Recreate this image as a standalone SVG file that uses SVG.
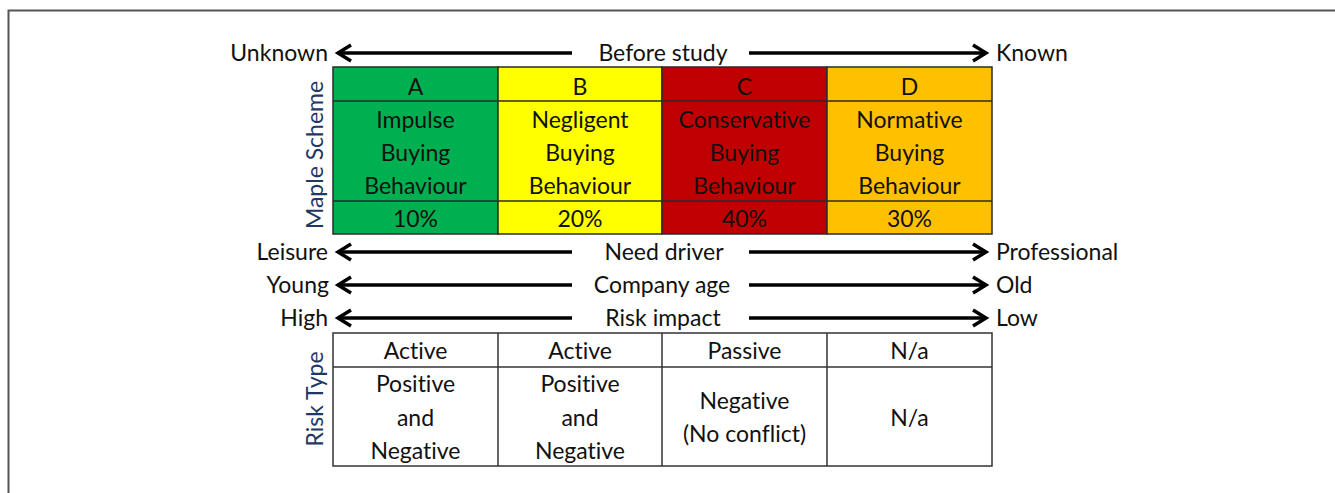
<svg xmlns="http://www.w3.org/2000/svg" width="1335" height="493" viewBox="0 0 1335 493">
<defs>
<style>
text{font-family:Lato,"Open Sans","Liberation Sans",sans-serif;font-size:23px;fill:#111;font-variant-ligatures:none;}
.m{text-anchor:middle;}
.r{text-anchor:end;}
.v{fill:#1f3864;text-anchor:middle;}
.cell{stroke:#2b2b2b;stroke-width:1.5;}
.grid{stroke:#333;stroke-width:1.5;fill:none;}
.ar{stroke:#000;stroke-width:3.5;fill:none;stroke-linecap:butt;}
.hd{stroke:#000;stroke-width:3.5;fill:none;stroke-linejoin:miter;}
</style>
</defs>
<rect x="0" y="0" width="1335" height="493" fill="#fff"/>
<path d="M8.5 493 V10.5 H1335" stroke="#555" stroke-width="2" fill="none"/>

<g id="connectors">
  <line class="ar" x1="338" y1="53" x2="572" y2="53"/>
  <polyline class="hd" points="351,45 338,53 351,61"/>
  <line class="ar" x1="749" y1="53" x2="986" y2="53"/>
  <polyline class="hd" points="973,45 986,53 973,61"/>

  <line class="ar" x1="338" y1="252" x2="572" y2="252"/>
  <polyline class="hd" points="351,244 338,252 351,260"/>
  <line class="ar" x1="749" y1="252" x2="986" y2="252"/>
  <polyline class="hd" points="973,244 986,252 973,260"/>

  <line class="ar" x1="338" y1="285" x2="572" y2="285"/>
  <polyline class="hd" points="351,277 338,285 351,293"/>
  <line class="ar" x1="749" y1="285" x2="986" y2="285"/>
  <polyline class="hd" points="973,277 986,285 973,293"/>

  <line class="ar" x1="338" y1="318" x2="572" y2="318"/>
  <polyline class="hd" points="351,310 338,318 351,326"/>
  <line class="ar" x1="749" y1="318" x2="986" y2="318"/>
  <polyline class="hd" points="973,310 986,318 973,326"/>
</g>

<g id="axis-labels">
  <text class="r" x="328" y="61">Unknown</text>
  <text class="m" x="663" y="61">Before study</text>
  <text x="996" y="61">Known</text>
  <text class="r" x="328" y="260">Leisure</text>
  <text class="m" x="664" y="260">Need driver</text>
  <text x="996" y="260">Professional</text>
  <text class="r" x="329" y="293">Young</text>
  <text class="m" x="662" y="293">Company age</text>
  <text x="996" y="293">Old</text>
  <text class="r" x="328" y="326">High</text>
  <text class="m" x="663" y="326">Risk impact</text>
  <text x="996" y="326">Low</text>
</g>

<g id="maple-label">
  <text class="v" transform="translate(323,155) rotate(-90)">Maple Scheme</text>
</g>

<g id="node-A">
  <rect class="cell" x="333" y="67" width="165" height="167" fill="#00b050"/>
  <line class="cell" x1="333" y1="101" x2="498" y2="101"/>
  <line class="cell" x1="333" y1="201" x2="498" y2="201"/>
  <text class="m" x="415.5" y="95">A</text>
  <text class="m" x="415.5" y="128">Impulse</text>
  <text class="m" x="415.5" y="161">Buying</text>
  <text class="m" x="415.5" y="194">Behaviour</text>
  <text class="m" x="415.5" y="227">10%</text>
</g>
<g id="node-B">
  <rect class="cell" x="498" y="67" width="164" height="167" fill="#ffff00"/>
  <line class="cell" x1="498" y1="101" x2="662" y2="101"/>
  <line class="cell" x1="498" y1="201" x2="662" y2="201"/>
  <text class="m" x="580" y="95">B</text>
  <text class="m" x="580" y="128">Negligent</text>
  <text class="m" x="580" y="161">Buying</text>
  <text class="m" x="580" y="194">Behaviour</text>
  <text class="m" x="580" y="227">20%</text>
</g>
<g id="node-C">
  <rect class="cell" x="662" y="67" width="165" height="167" fill="#c00000"/>
  <line class="cell" x1="662" y1="101" x2="827" y2="101"/>
  <line class="cell" x1="662" y1="201" x2="827" y2="201"/>
  <text class="m" x="744.5" y="95">C</text>
  <text class="m" x="744.5" y="128">Conservative</text>
  <text class="m" x="744.5" y="161">Buying</text>
  <text class="m" x="744.5" y="194">Behaviour</text>
  <text class="m" x="744.5" y="227">40%</text>
</g>
<g id="node-D">
  <rect class="cell" x="827" y="67" width="165" height="167" fill="#ffc000"/>
  <line class="cell" x1="827" y1="101" x2="992" y2="101"/>
  <line class="cell" x1="827" y1="201" x2="992" y2="201"/>
  <text class="m" x="909.5" y="95">D</text>
  <text class="m" x="909.5" y="128">Normative</text>
  <text class="m" x="909.5" y="161">Buying</text>
  <text class="m" x="909.5" y="194">Behaviour</text>
  <text class="m" x="909.5" y="227">30%</text>
</g>

<g id="risk-label">
  <text class="v" transform="translate(323,399) rotate(-90)">Risk Type</text>
</g>

<g id="risk-table">
  <rect class="grid" x="333" y="333" width="659" height="133"/>
  <line class="grid" x1="333" y1="367" x2="992" y2="367"/>
  <line class="grid" x1="498" y1="333" x2="498" y2="466"/>
  <line class="grid" x1="662" y1="333" x2="662" y2="466"/>
  <line class="grid" x1="827" y1="333" x2="827" y2="466"/>
  <text class="m" x="415.5" y="359">Active</text>
  <text class="m" x="580" y="359">Active</text>
  <text class="m" x="744.5" y="359">Passive</text>
  <text class="m" x="909.5" y="359">N/a</text>
  <text class="m" x="415.5" y="392">Positive</text>
  <text class="m" x="415.5" y="426">and</text>
  <text class="m" x="415.5" y="459">Negative</text>
  <text class="m" x="580" y="392">Positive</text>
  <text class="m" x="580" y="426">and</text>
  <text class="m" x="580" y="459">Negative</text>
  <text class="m" x="744.5" y="409">Negative</text>
  <text class="m" x="744.5" y="442">(No conflict)</text>
  <text class="m" x="909.5" y="426">N/a</text>
</g>
</svg>
